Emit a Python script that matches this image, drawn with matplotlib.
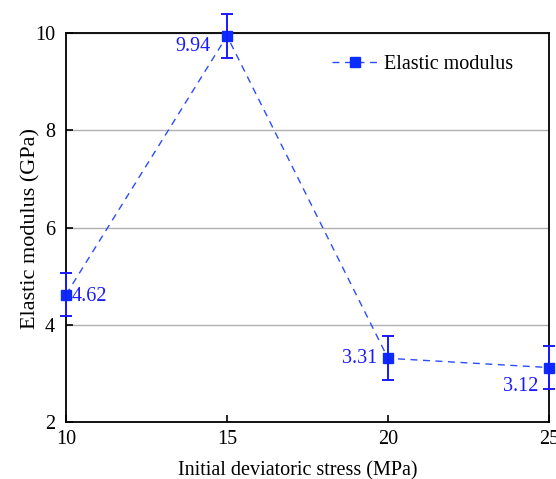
import matplotlib.pyplot as plt

plt.rcParams["font.family"] = ["Liberation Serif", "DejaVu Serif"]
plt.rcParams["mathtext.fontset"] = "stix"

# Данные
stress = [10, 15, 20, 25]
modulus = [4.62, 9.94, 3.31, 3.12]
errors = [0.45, 0.45, 0.45, 0.45]
labels = ["4.62", "9.94", "3.31", "3.12"]

fs = 14.5

fig = plt.figure(figsize=(5.56, 4.79), dpi=100)
ax = fig.add_axes([0.1187, 0.119, 0.8688, 0.812])

ax.plot(stress, modulus, linestyle=(0, (5, 4)), color="#2a4dff", lw=1.0,
        marker="s", markersize=6.5, markerfacecolor="#0a2cff",
        markeredgecolor="#0a2cff", label="Elastic modulus", clip_on=False, zorder=3)
ax.errorbar(stress, modulus, yerr=errors, fmt="none", ecolor="#1a1aff",
            elinewidth=1.4, capsize=4, capthick=1.4, clip_on=False, zorder=3)

# Подписи значений
offsets = [(4, -1, "left", "center"), (-12, -1, "right", "top"),
           (-8, 0, "right", "center"), (-8, -7, "right", "top")]
for x, y, t, (dx, dy, ha, va) in zip(stress, modulus, labels, offsets):
    ax.annotate(t, (x, y), xytext=(dx, dy), textcoords="offset points",
                ha=ha, va=va, color="#1a1aff", fontsize=fs)

ax.set_xlim(10, 25)
ax.set_ylim(2, 10)
ax.set_xticks([10, 15, 20, 25])
ax.set_yticks([2, 4, 6, 8, 10])
ax.tick_params(direction="in", length=5, width=1.2, labelsize=fs)
ax.tick_params(axis="y", pad=8)
ax.tick_params(axis="x", pad=6)
ax.yaxis.grid(True, color="#b0b0b0", lw=1.0)
ax.set_axisbelow(True)
for s in ax.spines.values():
    s.set_linewidth(1.3)

ax.set_xlabel("Initial deviatoric stress (MPa)", fontsize=fs)
ax.xaxis.set_label_coords(0.479, -0.1)
ax.set_ylabel("Elastic modulus (GPa)", fontsize=16)
ax.yaxis.set_label_coords(-0.053, 0.497)

ax.legend(loc="upper right", frameon=False, fontsize=fs,
          bbox_to_anchor=(0.963, 0.99), handlelength=2.3, handletextpad=0.3)

fig.savefig("out.png", dpi=100)
